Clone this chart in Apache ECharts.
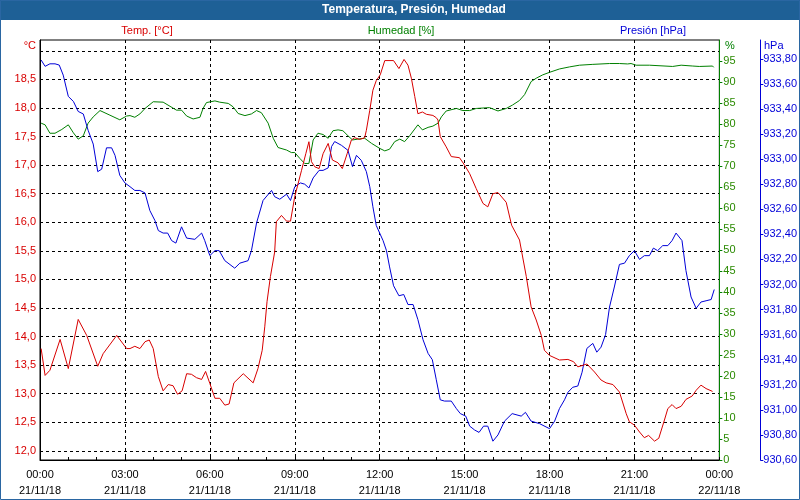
<!DOCTYPE html>
<html>
<head>
<meta charset="utf-8">
<script src="https://cdn.jsdelivr.net/npm/echarts@6.0.0/dist/echarts.min.js"></script>
<style>
  html, body { margin: 0; padding: 0; background: #fff; }
  #chart { width: 800px; height: 500px; }
</style>
</head>
<body>
<div id="chart"></div>
<script>
// horas del día (0-24) y valores
const tempHours = [0.04,0.18,0.35,0.71,1.00,1.35,1.65,2.04,2.23,2.71,3.06,3.18,3.35,3.53,3.71,3.86,4.00,4.18,4.35,4.53,4.70,4.86,5.02,5.18,5.35,5.53,5.71,5.85,6.00,6.18,6.35,6.53,6.68,6.85,7.18,7.53,7.70,7.85,7.94,8.02,8.14,8.29,8.35,8.53,8.71,8.85,9.00,9.24,9.39,9.50,9.59,9.71,9.86,10.00,10.18,10.33,10.53,10.68,10.85,11.00,11.12,11.29,11.47,11.53,11.65,11.76,11.88,12.02,12.18,12.49,12.68,12.86,13.00,13.12,13.24,13.35,13.51,13.65,13.88,14.00,14.06,14.14,14.35,14.53,14.82,15.00,15.18,15.41,15.65,15.82,16.00,16.18,16.47,16.66,16.94,17.18,17.35,17.53,17.71,17.82,18.00,18.35,18.65,18.85,19.00,19.32,19.59,19.82,20.00,20.24,20.47,20.71,20.82,21.00,21.18,21.35,21.50,21.71,21.86,22.06,22.18,22.33,22.47,22.65,22.82,23.04,23.18,23.35,23.53,23.76];
const tempValues = [13.79,13.32,13.41,13.95,13.44,14.30,14.02,13.48,13.70,14.02,13.79,13.79,13.83,13.79,13.91,13.94,13.79,13.30,13.05,13.16,13.14,12.99,13.05,13.35,13.34,13.28,13.25,13.39,13.18,12.92,12.92,12.80,12.82,13.19,13.35,13.19,13.44,13.76,14.17,14.61,15.05,15.48,16.01,16.12,16.02,16.02,16.45,16.91,17.20,17.41,17.06,16.97,16.94,17.20,17.38,17.09,17.04,16.94,17.20,17.44,17.48,17.45,17.48,17.61,17.96,18.31,18.48,18.58,18.83,18.83,18.69,18.85,18.75,18.52,18.20,17.90,17.93,17.89,17.87,17.83,17.79,17.50,17.32,17.15,17.13,17.00,16.85,16.59,16.33,16.27,16.50,16.52,16.35,15.95,15.69,15.05,14.52,14.29,14.02,13.76,13.67,13.59,13.60,13.56,13.47,13.52,13.38,13.24,13.19,13.16,13.03,12.65,12.51,12.45,12.33,12.23,12.27,12.17,12.22,12.54,12.74,12.81,12.74,12.78,12.90,12.96,13.06,13.15,13.09,13.04];

const humHours = [0.04,0.18,0.35,0.53,0.77,1.00,1.18,1.35,1.53,1.70,1.88,2.12,2.47,2.82,3.06,3.18,3.35,3.53,3.71,4.00,4.35,4.82,5.00,5.18,5.41,5.65,5.76,5.88,6.18,6.35,6.65,6.82,7.00,7.24,7.47,7.65,7.82,8.06,8.24,8.41,8.71,8.88,9.00,9.18,9.35,9.50,9.65,9.82,10.00,10.18,10.35,10.53,10.70,10.88,11.04,11.23,11.47,11.71,12.00,12.18,12.35,12.53,12.71,12.88,13.06,13.35,13.51,13.71,13.88,14.06,14.18,14.35,14.71,14.94,15.18,15.41,15.88,16.18,16.47,16.69,16.94,17.12,17.35,17.53,17.76,18.00,18.35,18.71,19.06,19.53,20.12,20.47,20.76,20.88,21.06,21.53,22.35,22.65,23.06,23.29,23.76,23.80];
const humValues = [80.2,79.8,77.8,77.8,78.7,79.8,77.9,76.4,77.2,80.2,81.7,83.2,82.1,81.0,81.9,82.0,81.6,82.4,83.7,85.3,85.2,83.3,83.3,81.9,81.2,81.6,83.7,85.1,85.5,85.2,84.9,84.1,82.5,82.0,82.4,83.2,82.7,80.2,76.6,74.4,73.8,73.2,73.2,71.8,70.6,70.6,76.2,77.8,77.5,76.6,78.4,78.6,78.4,77.2,76.2,76.4,76.6,75.4,74.2,73.6,74.0,75.8,76.4,75.8,77.2,79.8,78.6,79.2,79.5,80.2,81.7,83.1,83.7,83.2,83.2,83.7,83.9,83.1,83.7,84.5,85.6,87.0,90.1,90.9,91.7,92.3,93.1,93.6,94.0,94.2,94.4,94.4,94.3,94.4,94.0,94.0,93.7,94.0,93.8,93.7,93.8,93.5];

const presHours = [0.04,0.18,0.35,0.53,0.68,0.82,1.00,1.18,1.35,1.53,1.70,1.88,2.04,2.18,2.35,2.53,2.65,2.82,3.00,3.18,3.35,3.53,3.71,3.88,4.06,4.18,4.35,4.51,4.65,4.80,5.00,5.18,5.47,5.71,5.82,6.00,6.18,6.33,6.53,6.88,7.06,7.35,7.47,7.65,7.88,8.18,8.29,8.47,8.71,8.85,9.00,9.20,9.35,9.50,9.65,9.86,10.00,10.18,10.30,10.41,10.65,10.88,11.04,11.18,11.35,11.53,11.65,11.76,11.88,12.12,12.24,12.35,12.49,12.68,12.85,13.00,13.18,13.35,13.53,13.71,13.86,14.00,14.14,14.29,14.53,14.71,14.85,15.04,15.18,15.35,15.51,15.67,15.82,16.00,16.18,16.41,16.68,17.00,17.15,17.35,17.65,18.00,18.18,18.35,18.53,18.65,18.82,19.00,19.15,19.32,19.53,19.67,19.82,19.98,20.12,20.29,20.47,20.65,20.82,21.00,21.18,21.35,21.53,21.67,21.82,22.00,22.18,22.33,22.47,22.68,22.82,23.00,23.18,23.35,23.53,23.71,23.82];
const presValues = [933.79,933.74,933.76,933.76,933.75,933.67,933.50,933.46,933.38,933.36,933.23,933.12,932.90,932.92,933.09,933.09,933.03,932.87,932.81,932.78,932.75,932.75,932.73,932.59,932.51,932.43,932.41,932.41,932.35,932.33,932.46,932.37,932.36,932.41,932.35,932.23,932.27,932.27,932.19,932.13,932.17,932.19,932.27,932.49,932.67,932.75,932.70,932.68,932.72,932.67,932.78,932.81,932.80,932.77,932.85,932.91,932.91,932.93,933.10,933.14,933.11,933.07,932.94,933.03,932.99,932.90,932.78,932.62,932.47,932.35,932.27,932.14,931.99,931.91,931.92,931.84,931.84,931.72,931.56,931.45,931.40,931.24,931.08,931.07,931.07,931.01,930.97,930.95,930.87,930.84,930.82,930.87,930.87,930.75,930.80,930.91,930.97,930.95,930.98,930.91,930.89,930.85,930.91,931.01,931.08,931.14,931.18,931.19,931.30,931.49,931.53,931.46,931.50,931.60,931.82,931.98,932.16,932.17,932.23,932.27,932.20,932.23,932.23,932.29,932.27,932.31,932.31,932.35,932.41,932.35,932.11,931.90,931.81,931.86,931.87,931.88,931.96];

const tempTicks = [12, 12.5, 13, 13.5, 14, 14.5, 15, 15.5, 16, 16.5, 17, 17.5, 18, 18.5, 19];
const tempLabels = [12, 12.5, 13, 13.5, 14, 14.5, 15, 15.5, 16, 16.5, 17, 17.5, 18, 18.5];

const RED = '#d80000', GREEN = '#008000', BLUE = '#0000d8';
const FONT = 'Liberation Sans';

const zip = (xs, ys) => xs.map((x, i) => [x, ys[i]]);
const comma = (v, d) => v.toFixed(d).replace('.', ',');
const pad = n => (n < 10 ? '0' : '') + n;

const chart = echarts.init(document.getElementById('chart'));

chart.setOption({
  animation: false,
  backgroundColor: '#ffffff',
  textStyle: { fontFamily: FONT },
  grid: { left: 40, right: 80, top: 40, bottom: 40, show: true, borderColor: '#000', borderWidth: 1 },
  graphic: [
    { type: 'rect', shape: { x: 0, y: 0, width: 800, height: 20 }, style: { fill: '#1e6096' } },
    { type: 'rect', shape: { x: 0.5, y: 0.5, width: 799, height: 499 }, style: { fill: null, stroke: '#2a66a2', lineWidth: 1 } },
    { type: 'text', x: 414, y: 10, style: { text: 'Temperatura, Presión, Humedad', fill: '#fff', font: 'bold 12px ' + FONT, align: 'center', verticalAlign: 'middle' } },
    { type: 'text', x: 147, y: 31, style: { text: 'Temp. [°C]', fill: RED, font: '11px ' + FONT, align: 'center', verticalAlign: 'middle' } },
    { type: 'text', x: 401, y: 31, style: { text: 'Humedad [%]', fill: GREEN, font: '11px ' + FONT, align: 'center', verticalAlign: 'middle' } },
    { type: 'text', x: 653, y: 31, style: { text: 'Presión [hPa]', fill: BLUE, font: '11px ' + FONT, align: 'center', verticalAlign: 'middle' } },
    { type: 'text', x: 36, y: 46, style: { text: '°C', fill: RED, font: '11px ' + FONT, align: 'right', verticalAlign: 'middle' } },
    { type: 'text', x: 725, y: 46, style: { text: '%', fill: GREEN, font: '11px ' + FONT, align: 'left', verticalAlign: 'middle' } },
    { type: 'text', x: 764, y: 46, style: { text: 'hPa', fill: BLUE, font: '11px ' + FONT, align: 'left', verticalAlign: 'middle' } }
  ],
  xAxis: {
    type: 'value', min: 0, max: 24, interval: 3,
    axisLine: { lineStyle: { color: '#000' } },
    axisTick: { inside: true, length: 3, lineStyle: { color: '#000' } },
    minorTick: { show: true, splitNumber: 3, length: 3, lineStyle: { color: '#000' } },
    splitLine: { show: true, lineStyle: { color: '#000', type: [3, 3] } },
    axisLabel: {
      margin: 7, color: '#000', fontSize: 11, lineHeight: 16,
      formatter: v => pad(v % 24) + ':00\n' + (v >= 24 ? '22/11/18' : '21/11/18')
    }
  },
  yAxis: [
    {
      type: 'value', position: 'left', min: 11.84, max: 19.19,
      axisLine: { show: true, lineStyle: { color: '#000' } },
      axisTick: { show: false, customValues: tempTicks },
      splitLine: { show: true, lineStyle: { color: '#000', type: [3, 3] } },
      axisLabel: { customValues: tempLabels, color: RED, fontSize: 11, margin: 4, formatter: v => comma(v, 1) }
    },
    {
      type: 'value', position: 'right', min: 0, max: 100, interval: 5,
      axisLine: { show: true, lineStyle: { color: GREEN } },
      axisTick: { show: true, length: 3, lineStyle: { color: GREEN } },
      splitLine: { show: false },
      axisLabel: { color: '#2a8a00', fontSize: 11, margin: 4, showMaxLabel: false }
    },
    {
      type: 'value', position: 'right', offset: 41, min: 930.6, max: 933.95, interval: 0.2,
      axisLine: { show: true, lineStyle: { color: BLUE } },
      axisTick: { show: true, length: 3, lineStyle: { color: BLUE } },
      splitLine: { show: false },
      axisLabel: { color: BLUE, fontSize: 11, margin: 3, showMaxLabel: false, formatter: v => comma(v, 2) }
    }
  ],
  series: [
    { name: 'Humedad [%]', type: 'line', yAxisIndex: 1, data: zip(humHours, humValues), showSymbol: false, lineStyle: { color: GREEN, width: 1 } },
    { name: 'Presión [hPa]', type: 'line', yAxisIndex: 2, data: zip(presHours, presValues), showSymbol: false, lineStyle: { color: BLUE, width: 1 } },
    { name: 'Temp. [°C]', type: 'line', yAxisIndex: 0, data: zip(tempHours, tempValues), showSymbol: false, lineStyle: { color: RED, width: 1 } }
  ]
});
</script>
</body>
</html>
